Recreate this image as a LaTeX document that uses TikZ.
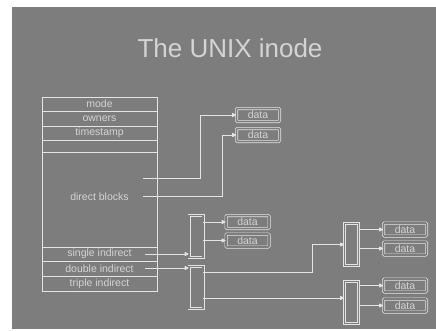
\documentclass[tikz,border=0pt]{standalone}
\usepackage{fontspec}
\setmainfont{Liberation Sans}
\usetikzlibrary{arrows.meta}
\definecolor{bg}{RGB}{125,125,125}
\definecolor{ln}{RGB}{228,228,228}
\definecolor{tx}{RGB}{212,212,212}
\begin{document}
\begin{tikzpicture}[x=1pt,y=-1pt,
  row/.style={draw=ln, line width=0.9pt, minimum width=115pt, inner sep=0pt, text=tx, font=\fontsize{10.5}{11}\selectfont},
  databox/.style={draw=ln, line width=0.7pt, double=bg, double distance=1.6pt, rounded corners=1pt, minimum width=43pt, minimum height=13pt, inner sep=0pt, text=tx, font=\fontsize{10.5}{11}\selectfont},
  blk/.style={draw=ln, line width=0.7pt, double=bg, double distance=1.6pt, minimum width=14pt, minimum height=42pt, inner sep=0pt},
  arr/.style={draw=ln, line width=0.9pt, -{Latex[length=5pt,width=5pt,round]}},
]
\useasboundingbox (0,0) rectangle (436,330);
\fill[white] (0,0) rectangle (436,330);
\fill[bg] (12,7) rectangle (436,329);

\node[text=tx, font=\fontsize{26}{30}\selectfont] (title) at (230,48) {The UNIX inode};

% inode rows
\node[row, minimum height=14pt]   (mode)   at (99.5,104)   {mode};
\node[row, minimum height=15pt]   (owners) at (99.5,118.5) {owners};
\node[row, minimum height=14pt]   (ts)     at (99.5,133)   {timestamp};
\node[row, minimum height=12pt]   (blank)  at (99.5,146)   {};
\node[row, minimum height=95pt]   (direct) at (99.5,199.5) {};
\node[text=tx, font=\fontsize{10.5}{11}\selectfont] (directlbl) at (99.5,197) {direct blocks};
\node[row, minimum height=14pt]   (single) at (99.5,254)   {single indirect};
\node[row, minimum height=15pt]   (double) at (99.5,268.5) {double indirect};
\node[row, minimum height=15pt]   (triple) at (99.5,283.5) {triple indirect};

% direct data blocks
\node[databox] (dd1) at (258,115) {data};
\node[databox] (dd2) at (258,135) {data};
\coordinate (p1) at (143,178);
\coordinate (p2) at (143,196);
\draw[arr] (p1) -- (200,178) |- (dd1.west);
\draw[arr] (p2) -- (222,196) |- (dd2.west);

% single indirect
\node[blk] (sb) at (196,236.5) {};
\node[databox] (sd1) at (247.5,222) {data};
\node[databox] (sd2) at (247.5,240.5) {data};
\coordinate (p3) at (145,254);
\draw[arr] (p3) -- (sb.west |- p3);
\draw[arr] (sb.east |- sd1) -- (sd1.west);
\draw[arr] (sb.east |- sd2) -- (sd2.west);

% double indirect
\node[blk] (db) at (196,287.5) {};
\coordinate (p4) at (145,268);
\draw[arr] (p4) -- (db.west |- p4);
\node[blk] (ra) at (351.5,244.5) {};
\node[blk] (rb) at (351.5,302.5) {};
\draw[arr] (db.east |- 0,272.5) -- (312,272.5) |- (ra.west);
\draw[arr] (db.east |- 0,298) -- (rb.west |- 0,298);

\node[databox] (ra1) at (405,229.5) {data};
\node[databox] (ra2) at (405,248.5) {data};
\node[databox] (rb1) at (405,285.5) {data};
\node[databox] (rb2) at (405,305.5) {data};
\draw[arr] (ra.east |- ra1) -- (ra1.west);
\draw[arr] (ra.east |- ra2) -- (ra2.west);
\draw[arr] (rb.east |- rb1) -- (rb1.west);
\draw[arr] (rb.east |- rb2) -- (rb2.west);
\end{tikzpicture}
\end{document}
